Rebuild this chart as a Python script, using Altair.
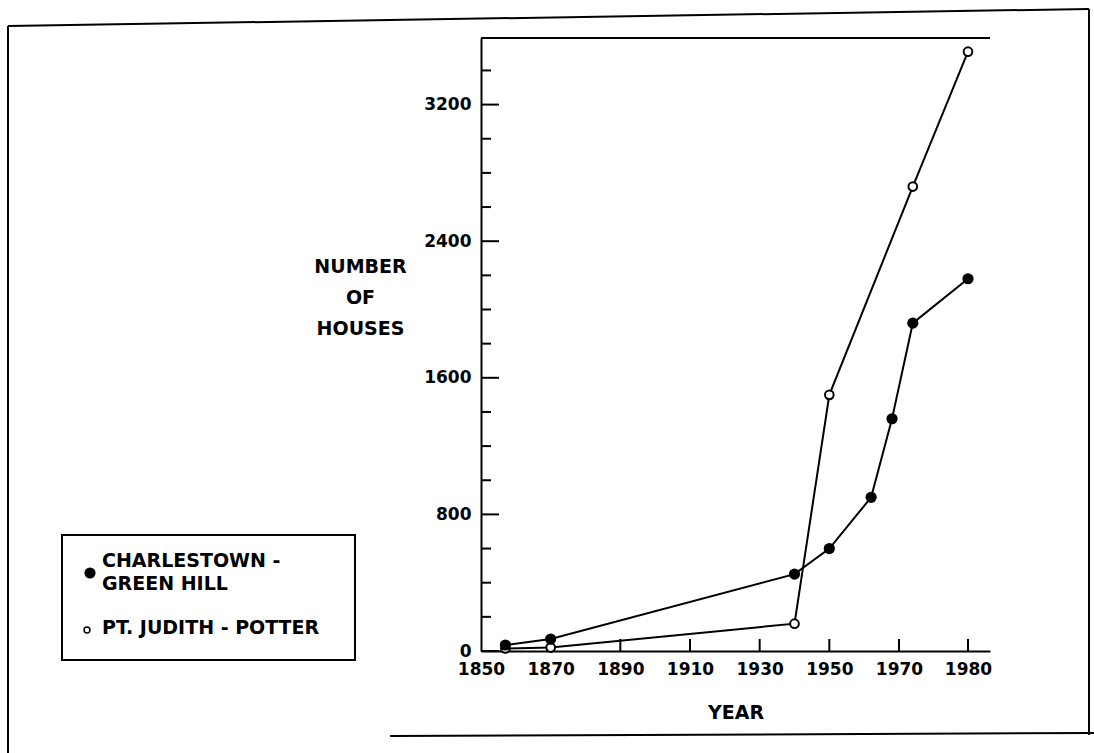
import altair as alt
import pandas as pd

# ---------------- data ----------------
ch_name = "CHARLESTOWN - GREEN HILL"
ch_year = [1857, 1870, 1940, 1950, 1962, 1968, 1972, 1980]
ch_houses = [35, 70, 450, 600, 900, 1360, 1920, 2180]

pj_name = "PT. JUDITH - POTTER"
pj_year = [1857, 1870, 1940, 1950, 1972, 1980]
pj_houses = [15, 20, 160, 1500, 2720, 3510]

x_label_values = [1850, 1870, 1890, 1910, 1930, 1950, 1970, 1980]
x_tick_values = [1870, 1890, 1910, 1930, 1950, 1970, 1980]
y_major = [0, 800, 1600, 2400, 3200]
y_minor = [200, 400, 600, 1000, 1200, 1400, 1800, 2000, 2200, 2600, 2800, 3000, 3400]

legend_lines = ["CHARLESTOWN -", "GREEN HILL", "PT. JUDITH - POTTER"]
y_title = ["NUMBER", "OF", "HOUSES"]
x_title = "YEAR"

# ---------------- layout ----------------
W, H = 509, 613
PAD = {"left": 481, "top": 38, "right": 104, "bottom": 102}
FONT = "DejaVu Sans"

df_ch = pd.DataFrame({"year": ch_year, "houses": ch_houses, "series": ch_name})
df_pj = pd.DataFrame({"year": pj_year, "houses": pj_houses, "series": pj_name})
df_xt = pd.DataFrame({"year": x_tick_values})
df_ymaj = pd.DataFrame({"v": y_major})
df_ymin = pd.DataFrame({"v": y_minor})
one = pd.DataFrame({"k": [0]})  # single row for annotation marks

# piecewise x scale: the drawing gives the 1970-1980 step the same width as 20 years
x_scale = alt.Scale(domain=[1850, 1970, 1980, 1983.2], range=[0, 418, 487, W],
                    nice=False, zero=False)
y_scale = alt.Scale(domain=[0, 3590], nice=False, zero=True)

x_axis = alt.Axis(values=x_label_values, format="d", ticks=False, grid=False,
                  domainColor="black", domainWidth=2,
                  labelFont=FONT, labelFontSize=17, labelFontWeight="bold",
                  labelColor="black", labelPadding=10,
                  labelFlush=False, labelOverlap=False,
                  title=x_title, titleFont=FONT, titleFontSize=19, titleFontWeight="bold",
                  titleColor="black", titleBaseline="middle", titleY=61)
y_axis = alt.Axis(values=y_major, format="d", ticks=False, grid=False,
                  domainColor="black", domainWidth=2,
                  labelFont=FONT, labelFontSize=17, labelFontWeight="bold",
                  labelColor="black", labelPadding=10, labelBaseline="middle",
                  labelFlush=False, labelOverlap=False,
                  title=y_title, titleFont=FONT, titleFontSize=19, titleFontWeight="bold",
                  titleColor="black", titleAngle=0, titleAlign="center", titleBaseline="top",
                  titleLineHeight=31, titleX=-121, titleY=219)

X = alt.X("year:Q", scale=x_scale, axis=x_axis)
Y = alt.Y("houses:Q", scale=y_scale, axis=y_axis)

line_ch = alt.Chart(df_ch).mark_line(color="black", strokeWidth=2).encode(x=X, y=Y)
line_pj = alt.Chart(df_pj).mark_line(color="black", strokeWidth=2).encode(x=X, y=Y)
pts_pj = alt.Chart(df_pj).mark_point(shape="circle", filled=True, fill="white", stroke="black",
                                     strokeWidth=2, size=75, opacity=1).encode(x=X, y=Y)
pts_ch = alt.Chart(df_ch).mark_point(shape="circle", filled=True, color="black",
                                     size=125, opacity=1).encode(x=X, y=Y)

xticks = alt.Chart(df_xt).mark_rule(color="black", strokeWidth=2).encode(
    x=X, y=alt.value(H), y2=alt.value(H - 12))
Yv = alt.Y("v:Q", scale=y_scale, axis=y_axis)
ymaj = alt.Chart(df_ymaj).mark_rule(color="black", strokeWidth=2).encode(
    y=Yv, x=alt.value(0), x2=alt.value(18))
ymin = alt.Chart(df_ymin).mark_rule(color="black", strokeWidth=2).encode(
    y=Yv, x=alt.value(0), x2=alt.value(10))

# top edge of the plot box
top_edge = alt.Chart(one).mark_rule(color="black", strokeWidth=2).encode(
    x=alt.value(0), x2=alt.value(W), y=alt.value(0))

# page frame
frame_top = alt.Chart(one).mark_rule(color="black", strokeWidth=2).encode(
    x=alt.value(-473), y=alt.value(-12), x2=alt.value(608), y2=alt.value(-29))
frame_left = alt.Chart(one).mark_rule(color="black", strokeWidth=2).encode(
    x=alt.value(-473), y=alt.value(-12), y2=alt.value(720))
frame_right = alt.Chart(one).mark_rule(color="black", strokeWidth=2).encode(
    x=alt.value(608), y=alt.value(-29), y2=alt.value(697))
frame_bottom = alt.Chart(one).mark_rule(color="black", strokeWidth=2).encode(
    x=alt.value(-91), y=alt.value(698), x2=alt.value(613), y2=alt.value(695))

# legend box
leg_box = alt.Chart(one).mark_rect(fillOpacity=0, stroke="black", strokeWidth=2).encode(
    x=alt.value(-419), x2=alt.value(-126), y=alt.value(497), y2=alt.value(622))
leg_dot = alt.Chart(one).mark_point(shape="circle", filled=True, color="black",
                                    size=125, opacity=1).encode(
    x=alt.value(-391), y=alt.value(535))
leg_ring = alt.Chart(one).mark_point(shape="circle", filled=True, fill="white",
                                     stroke="black", strokeWidth=1.5, size=35,
                                     opacity=1).encode(
    x=alt.value(-394), y=alt.value(592))
leg_texts = [
    alt.Chart(one).mark_text(align="left", baseline="middle", font=FONT, fontSize=19,
                             fontWeight="bold", color="black").encode(
        x=alt.value(-379), y=alt.value(yy), text=alt.value(t))
    for t, yy in zip(legend_lines, [523, 546, 590])
]

chart = alt.layer(
    frame_top, frame_left, frame_right, frame_bottom, top_edge,
    ymin, ymaj, xticks,
    line_pj, line_ch, pts_pj, pts_ch,
    leg_box, leg_dot, leg_ring, *leg_texts,
).properties(
    width=W, height=H,
    autosize=alt.AutoSizeParams(type="none"),
    padding=PAD,
    background="white",
).configure_view(stroke=None)

chart.save("out.html", embed_options={"renderer": "svg", "actions": False})
